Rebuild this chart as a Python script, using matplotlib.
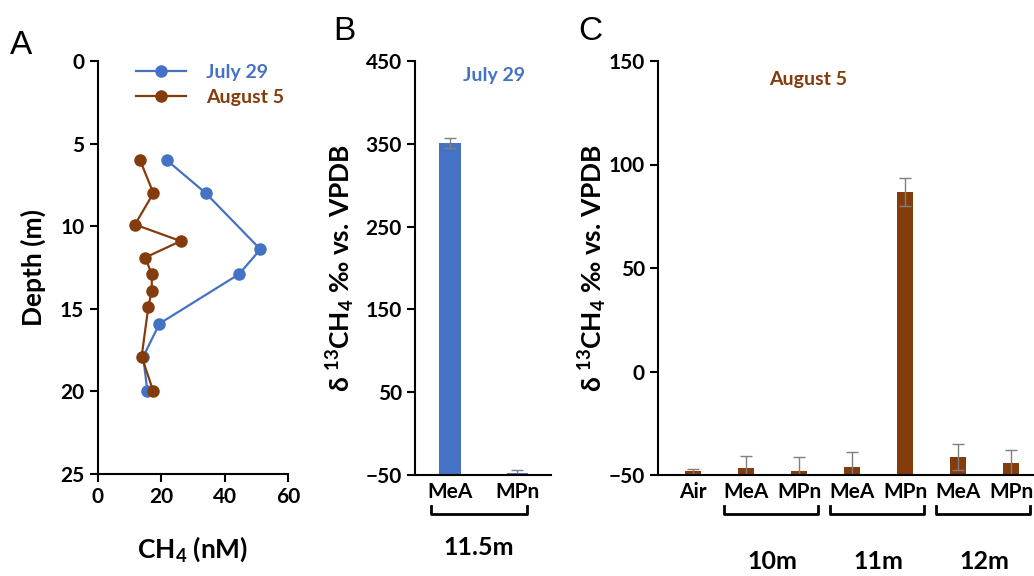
import matplotlib
matplotlib.use("Agg")
import matplotlib.pyplot as plt
import numpy as np

plt.rcParams['font.family'] = ['Lato', 'DejaVu Sans']
plt.rcParams['font.weight'] = 'bold'
plt.rcParams['axes.labelweight'] = 'bold'
plt.rcParams['mathtext.default'] = 'regular'

blue = '#4472C4'
brown = '#843C0C'
err_color = '#7F7F7F'

# panel A: depth profiles
depth_jul = [6, 8, 11.4, 12.9, 15.9, 17.9, 20]
ch4_jul = [21.8, 34.1, 51.3, 44.6, 19.5, 14.4, 15.7]
depth_aug = [6, 8, 9.9, 10.9, 11.9, 12.9, 13.9, 14.9, 17.9, 20]
ch4_aug = [13.4, 17.6, 11.8, 26.2, 15.0, 17.1, 17.1, 16.0, 13.9, 17.6]

# panel B: July 29, 11.5 m
labels_b = ['MeA', 'MPn']
vals_b = [351, -48]
errs_b = [5.5, 4]

# panel C: August 5
labels_c = ['Air', 'MeA', 'MPn', 'MeA', 'MPn', 'MeA', 'MPn']
vals_c = [-48.2, -46.6, -48.2, -45.9, 86.8, -41.2, -44.2]
errs_c = [1.2, 6.0, 6.7, 7.0, 6.7, 6.2, 6.2]
groups_c = ['10m', '11m', '12m']

fig = plt.figure(figsize=(10.34, 5.76), dpi=100)
W, H = 1034., 576.

def frac(l, r, t, b):
    return [l / W, 1 - b / H, (r - l) / W, (b - t) / H]

def style(ax):
    ax.spines['top'].set_visible(False)
    ax.spines['right'].set_visible(False)
    for s in ('left', 'bottom'):
        ax.spines[s].set_linewidth(1.5)
        ax.spines[s].set_color('black')
    ax.tick_params(width=1.5, length=6, labelsize=15, direction='out')

# ---- A ----
axA = fig.add_axes(frac(97.5, 288, 61, 474))
axA.plot(ch4_jul, depth_jul, '-o', color=blue, lw=1.6, ms=8, label='July 29')
axA.plot(ch4_aug, depth_aug, '-o', color=brown, lw=1.6, ms=8, label='August 5')
axA.set_xlim(0, 60)
axA.set_ylim(25, 0)
axA.set_xticks([0, 20, 40, 60])
axA.set_yticks([0, 5, 10, 15, 20, 25])
style(axA)
axA.set_ylabel('Depth (m)', fontsize=19, labelpad=10)
axA.set_xlabel('CH$_4$ (nM)', fontsize=19, labelpad=20)
leg = axA.legend(loc='upper right', frameon=False, fontsize=14, handlelength=2.6,
                 bbox_to_anchor=(1.07, 1.035), labelspacing=0.4, handletextpad=1.0)
for t, c in zip(leg.get_texts(), [blue, brown]):
    t.set_color(c)
fig.text(10 / W, 1 - 45 / H, 'A', fontsize=24, fontweight='normal',
         family='Liberation Sans', va='center')

# ---- B ----
axB = fig.add_axes(frac(415, 551, 61, 475))
xb = np.arange(len(labels_b))
axB.bar(xb, np.array(vals_b) + 50, 0.32, bottom=-50, color=blue,
        yerr=errs_b, ecolor=err_color, capsize=4, error_kw={'elinewidth': 1})
axB.set_xlim(-0.52, 1.5)
axB.set_ylim(-50, 450)
axB.set_yticks([-50, 50, 150, 250, 350, 450])
axB.set_xticks(xb)
axB.set_xticklabels(labels_b)
style(axB)
axB.tick_params(axis='x', length=0, pad=5)
axB.set_ylabel(r'δ $^{13}$CH$_4$ ‰ vs. VPDB', fontsize=19, labelpad=6)
axB.text(0.58, 0.985, 'July 29', transform=axB.transAxes, color=blue,
         fontsize=14, ha='center', va='top')
tr = axB.get_xaxis_transform()
axB.plot([-0.28, -0.28, 1.15, 1.15], [-0.075, -0.095, -0.095, -0.075], color='black',
         lw=2, transform=tr, clip_on=False)
axB.text(0.43, -0.175, '11.5m', transform=tr, fontsize=18, ha='center', va='center')
fig.text(333 / W, 1 - 32 / H, 'B', fontsize=24, fontweight='normal',
         family='Liberation Sans', va='center')

# ---- C ----
axC = fig.add_axes(frac(658, 1034, 61, 475))
xc = np.arange(len(labels_c))
axC.bar(xc, np.array(vals_c) + 50, 0.3, bottom=-50, color=brown,
        yerr=errs_c, ecolor=err_color, capsize=4, error_kw={'elinewidth': 1})
axC.set_xlim(-0.66, 6.43)
axC.set_ylim(-50, 150)
axC.set_yticks([-50, 0, 50, 100, 150])
axC.set_xticks(xc)
axC.set_xticklabels(labels_c)
style(axC)
axC.tick_params(axis='x', length=0, pad=5)
axC.set_ylabel(r'δ $^{13}$CH$_4$ ‰ vs. VPDB', fontsize=19, labelpad=0)
axC.text(0.40, 0.975, 'August 5', transform=axC.transAxes, color=brown,
         fontsize=14, ha='center', va='top')
trc = axC.get_xaxis_transform()
for k, g in enumerate(groups_c):
    a = 1 + 2 * k
    axC.plot([a - 0.42, a - 0.42, a + 1.36, a + 1.36], [-0.075, -0.095, -0.095, -0.075],
             color='black', lw=2, transform=trc, clip_on=False)
    axC.text(a + 0.5, -0.21, g, transform=trc, fontsize=18, ha='center', va='center')
fig.text(578 / W, 1 - 32 / H, 'C', fontsize=24, fontweight='normal',
         family='Liberation Sans', va='center')

fig.savefig('out.png', dpi=100)
